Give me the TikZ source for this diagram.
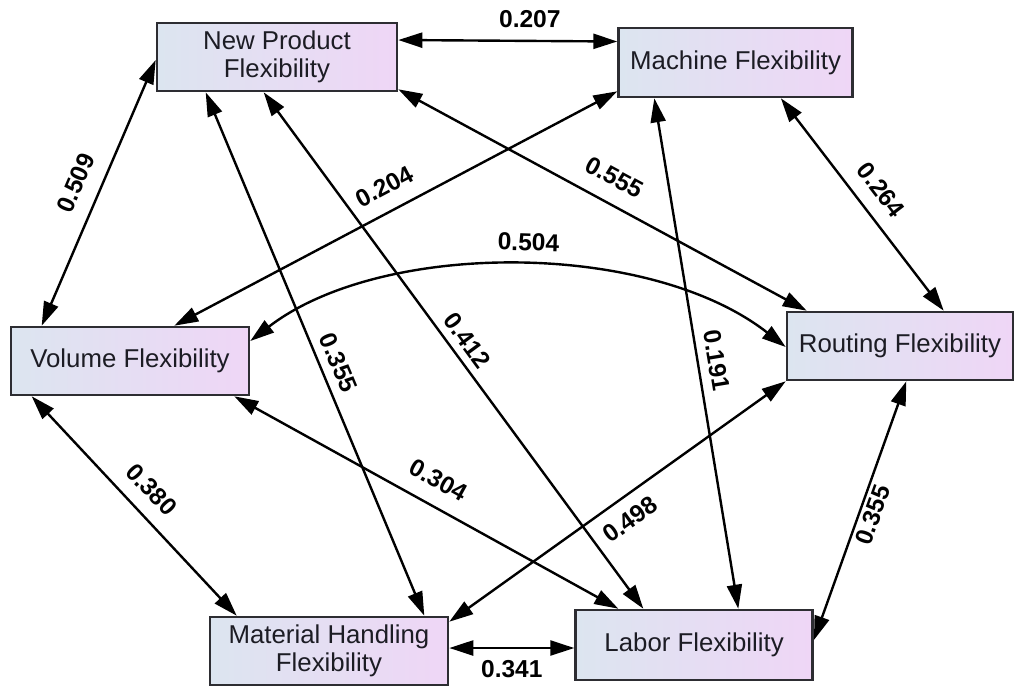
\documentclass[tikz,border=0pt]{standalone}
\usepackage{fontspec}
\setmainfont{Liberation Sans}
\usepackage{xcolor}
\usepackage{tikz}
\usetikzlibrary{arrows.meta,positioning}

\definecolor{shadeL}{RGB}{220,229,240}
\definecolor{shadeR}{RGB}{239,214,246}
\definecolor{rimgray}{RGB}{45,45,50}
\definecolor{inkdark}{RGB}{28,28,36}

\begin{document}
\begin{tikzpicture}[
    x=1pt, y=-1pt,
    font=\fontsize{25.8}{28.5}\selectfont,
    flex/.style={draw=rimgray, line width=2.6pt, left color=shadeL, right color=shadeR, text=inkdark, align=center, minimum width=238pt, minimum height=68pt, inner sep=0pt},
    corr/.style={{Triangle[length=24pt,width=15pt]}-{Triangle[length=24pt,width=15pt]}, line width=2.4pt},
    coef/.style={font=\fontsize{24.5}{26}\selectfont\bfseries, sloped, inner sep=#1},
    coef/.default=13pt
]
\useasboundingbox (0,0) rectangle (1016,686);
\node[flex, minimum width=240pt] (np) at (277,57) {New Product\\Flexibility};
\node[flex, minimum width=234pt, minimum height=69pt, right=219pt of np, yshift=-5.5pt] (mach) {Machine Flexibility};
\node[flex] (vol) at (130,361) {Volume Flexibility};
\node[flex, minimum width=226pt] (rout) at (900,346) {Routing Flexibility};
\node[flex] (mat) at (329,651) {Material Handling\\Flexibility};
\node[flex, minimum width=237pt, minimum height=70pt, right=125pt of mat, yshift=6pt] (lab) {Labor Flexibility};
% correlations between the flexibility types
\draw[corr] ([yshift=17pt]np.east) -- node[coef=12pt, above, pos=0.6] {0.207} ([yshift=21pt]mach.west);
\draw[corr] ([xshift=32pt]vol.north west) -- node[coef=15pt, above] {0.509} ([yshift=-3pt]np.west);
\draw[corr] ([yshift=3pt]np.south east) -- node[coef=16pt, above] {0.555} ([xshift=21pt]rout.north west);
\draw[corr] ([xshift=50pt]np.south west) -- node[coef=8.5pt, above, pos=0.53] {0.355} ([xshift=-25pt]mat.north east);
\draw[corr] ([xshift=108pt]np.south west) -- node[coef=7pt, above] {0.412} ([xshift=69pt]lab.north west);
\draw[corr] ([xshift=-76pt]vol.north east) -- node[coef=15pt, above] {0.204} ([yshift=7pt]mach.south west);
\draw[corr] ([xshift=37pt]mach.south west) -- node[coef=9pt, above, pos=0.52] {0.191} ([xshift=164pt]lab.north west);
\draw[corr] ([xshift=-73pt]mach.south east) -- node[coef=14pt, above] {0.264} ([xshift=158pt]rout.north west);
\draw[corr] ([yshift=20pt]vol.east) .. controls +(131,-101) and +(-137,-107) .. node[coef=14pt, above, pos=0.52] {0.504} ([yshift=-1pt]rout.west);
\draw[corr] ([xshift=-16pt]vol.south east) -- node[coef=15.5pt, above] {0.304} ([xshift=44pt]lab.north west);
\draw[corr] ([xshift=22pt]vol.south west) -- node[coef=14pt, above] {0.380} ([xshift=28pt]mat.north west);
\draw[corr] ([yshift=-6pt]mat.north east) -- node[coef=12pt, below] {0.498} (rout.south west);
\draw[corr] ([yshift=5pt]lab.east) -- node[coef=3.5pt, below] {0.355} ([xshift=-108pt]rout.south east);
\draw[corr] ([yshift=3pt]mat.east) -- node[coef=11pt, below] {0.341} ([yshift=-3pt]lab.west);
\end{tikzpicture}
\end{document}
